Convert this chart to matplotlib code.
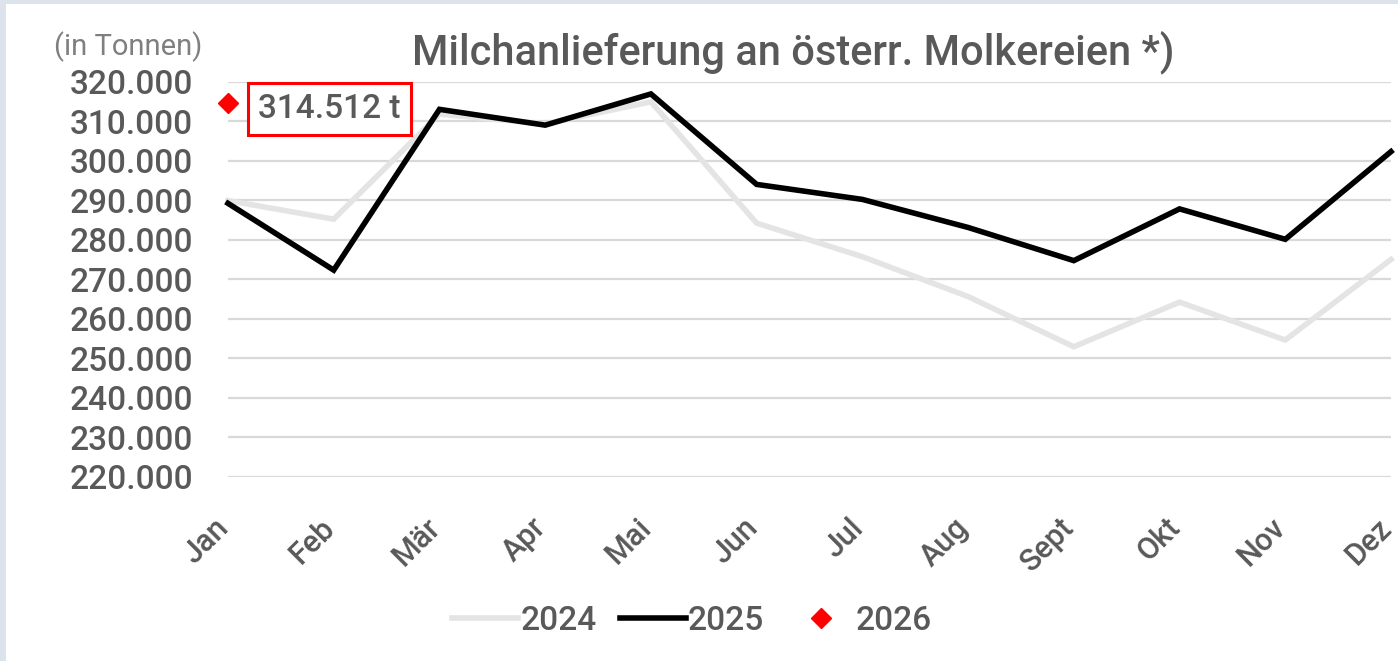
import matplotlib.pyplot as plt
import matplotlib.transforms as mtransforms
from matplotlib.lines import Line2D
from matplotlib.patches import Rectangle

plt.rcParams['font.family'] = ['Roboto', 'DejaVu Sans']

months = ['Jan', 'Feb', 'Mär', 'Apr', 'Mai', 'Jun', 'Jul', 'Aug', 'Sept', 'Okt', 'Nov', 'Dez']
milk_2024 = [289900, 285200, 311800, 309300, 314900, 284200, 275700, 265600, 252900, 264200, 254600, 275000]
milk_2025 = [289200, 272300, 313000, 309000, 316900, 294000, 290200, 283100, 274700, 287800, 280100, 302300]
milk_2026 = [314512]
y_ticks = list(range(220000, 320001, 10000))

text_col = '#595959'

fig = plt.figure(figsize=(13.98, 6.61), dpi=100)
ax = fig.add_axes([228 / 1398, 1 - 476.7 / 661, (1391 - 228) / 1398, (476.7 - 81.7) / 661])

x = list(range(len(months)))
ax.plot(x, milk_2024, color='#e4e4e4', lw=4, solid_joinstyle='miter', clip_on=False, zorder=3)
ax.plot(x, milk_2025, color='black', lw=4, solid_joinstyle='miter', clip_on=False, zorder=4)
ax.plot(x[:len(milk_2026)], milk_2026, ls='none', marker='D', ms=10, color='red', clip_on=False, zorder=5)

ax.annotate('314.512 t', xy=(0, milk_2026[0]), xytext=(73, -4), textcoords='offset points',
            ha='center', va='center', fontsize=24, color=text_col, fontweight='medium',
            bbox=dict(boxstyle='square,pad=0.3', fc='white', ec='red', lw=2.2), zorder=6)

ax.set_xlim(0, len(months) - 1)
ax.set_ylim(220000, 320000)
ax.set_yticks(y_ticks)
ax.set_yticklabels([f'{v:,}'.replace(',', '.') for v in y_ticks], fontweight='medium')
ax.set_xticks(x)
ax.set_xticklabels(months, rotation=45, ha='right', rotation_mode='anchor', fontweight='medium')
ax.tick_params(axis='y', length=0, pad=25, labelsize=24, labelcolor=text_col)
ax.tick_params(axis='x', length=0, pad=26, labelsize=22, labelcolor=text_col)
offset = mtransforms.ScaledTranslation(-0.14, 0, fig.dpi_scale_trans)
for lbl in ax.get_xticklabels():
    lbl.set_transform(lbl.get_transform() + offset)

ax.grid(axis='y', color='#d9d9d9', lw=1.6)
ax.set_axisbelow(True)
for s in ax.spines.values():
    s.set_visible(False)

fig.text(793 / 1398, 1 - 52 / 661, 'Milchanlieferung an österr. Molkereien *)', ha='center', va='center',
         fontsize=30, color=text_col, fontweight='medium')
fig.text(128 / 1398, 1 - 47 / 661, '(in Tonnen)', ha='center', va='center', fontsize=21, color='#7f7f7f')

handles = [Line2D([], [], color='#e4e4e4', lw=4),
           Line2D([], [], color='black', lw=4),
           Line2D([], [], ls='none', marker='D', ms=10, color='red')]
fig.legend(handles, ['2024', '2025', '2026'], loc='center', bbox_to_anchor=(692 / 1398, 1 - 621 / 661),
           ncol=3, frameon=False, prop={'size': 24, 'weight': 'medium'}, labelcolor=text_col,
           handlelength=2.0, handletextpad=0.05, columnspacing=0.7)

# light frame on the left and top edge
fig.add_artist(Rectangle((0, 0), 6 / 1398, 1, transform=fig.transFigure, color='#dde3ec', lw=0))
fig.add_artist(Rectangle((0, 1 - 4 / 661), 1, 4 / 661, transform=fig.transFigure, color='#dde3ec', lw=0))

fig.savefig('out.png', dpi=100)
